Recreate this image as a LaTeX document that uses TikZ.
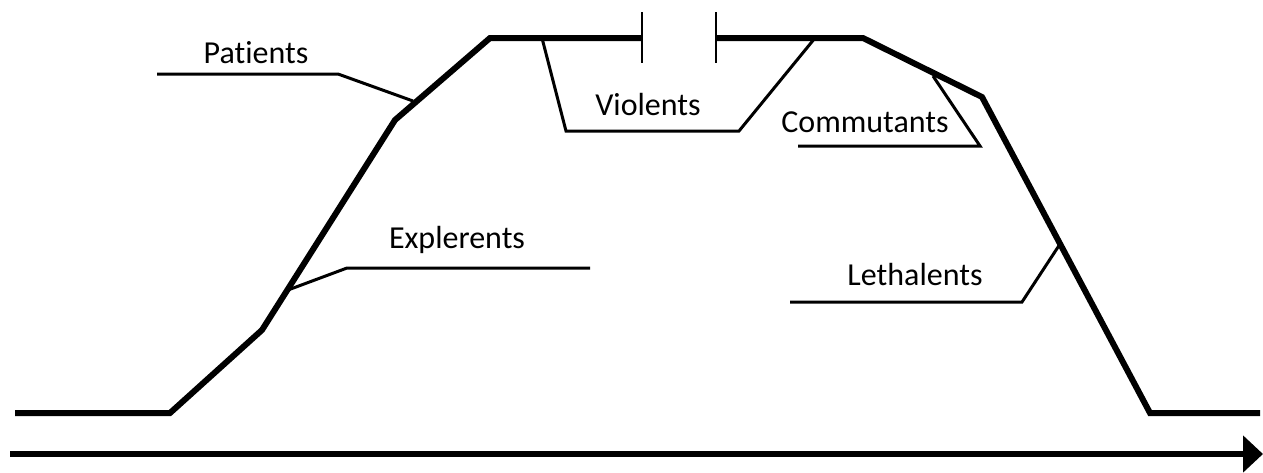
\documentclass[tikz,border=0pt]{standalone}
\usepackage{fontspec}
\setmainfont{Carlito}[Ligatures={NoCommon}]
\usetikzlibrary{arrows.meta}
\begin{document}
\begin{tikzpicture}[x=1pt,y=-1pt,
  profile/.style={line width=6pt,line join=miter},
  leader/.style={line width=3pt,line join=miter},
  breakmark/.style={line width=2pt},
  lbl/.style={font=\fontsize{32}{34}\selectfont,anchor=base,inner sep=0pt}]
\useasboundingbox (0,0) rectangle (1263,472);
% profile of the curve
\coordinate (p0) at (15,413);
\coordinate (p1) at (170,413);
\coordinate (p2) at (262,330);
\coordinate (p3) at (395,120);
\coordinate (p4) at (490,38);
\coordinate (p5) at (642,38);
\coordinate (q0) at (716,38);
\coordinate (q1) at (863,38);
\coordinate (q2) at (982,97);
\coordinate (q3) at (1150,413);
\coordinate (q4) at (1260,413);
\draw[profile] (p0) -- (p1) -- (p2) -- (p3) -- (p4) -- (p5);
\draw[profile] (q0) -- (q1) -- (q2) -- (q3) -- (q4);
% break marks
\draw[breakmark] (642,12) -- (642,63);
\draw[breakmark] (716,12) -- (716,63);
% time axis
\coordinate (a0) at (10,454);
\coordinate (a1) at (1263,454);
\draw[line width=6pt,-{Triangle[length=20pt,width=36pt]}] (a0) -- (a1);
% labels
\node[lbl] (patients) at (256,63) {Patients};
\node[lbl] (violents) at (648,115) {Violents};
\node[lbl] (commutants) at (865,132) {Commutants};
\node[lbl] (explerents) at (457,248) {Explerents};
\node[lbl] (lethalents) at (915,285) {Lethalents};
% leaders
\coordinate (pa1) at (157,74);
\coordinate (pa2) at (338,74);
\coordinate (pa3) at (413,101);
\draw[leader] (pa1) -- (pa2) -- (pa3);
\coordinate (vi1) at (542,38);
\coordinate (vi2) at (566,131);
\coordinate (vi3) at (739,131);
\coordinate (vi4) at (815,38);
\draw[leader] (vi1) -- (vi2) -- (vi3) -- (vi4);
\coordinate (co1) at (798,146);
\coordinate (co2) at (980,146);
\coordinate (co3) at (933,76);
\draw[leader] (co1) -- (co2) -- (co3);
\coordinate (ex1) at (590,268);
\coordinate (ex2) at (347,268);
\coordinate (ex3) at (288,290);
\draw[leader] (ex1) -- (ex2) -- (ex3);
\coordinate (le1) at (790,302);
\coordinate (le2) at (1022,302);
\coordinate (le3) at (1060,244);
\draw[leader] (le1) -- (le2) -- (le3);
\end{tikzpicture}
\end{document}
